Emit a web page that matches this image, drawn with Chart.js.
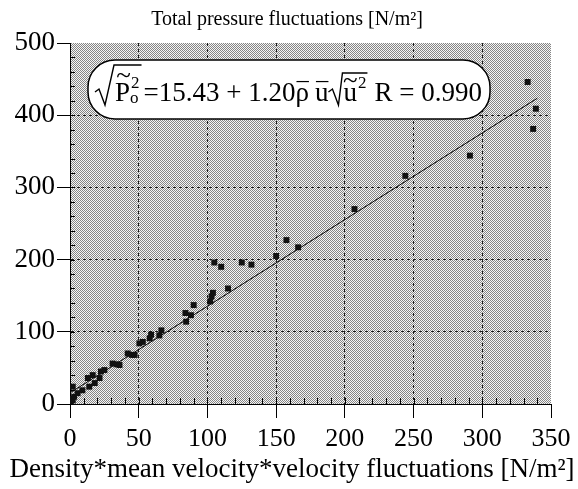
<!DOCTYPE html>
<html>
<head>
<meta charset="utf-8">
<script src="https://cdn.jsdelivr.net/npm/chart.js@4.4.1/dist/chart.umd.min.js"></script>
<style>
html, body { margin: 0; padding: 0; background: #fff; }
#wrap { width: 578px; height: 489px; }
</style>
</head>
<body>
<div id="wrap"><canvas id="chart" width="578" height="489"></canvas></div>
<script>
var xVals = [0.5, 1, 2, 3, 2, 5.5, 9, 14, 18, 13, 16.5, 21.5, 22.5, 25, 31, 34, 36, 42, 45, 47,
             50.5, 53, 58, 59, 65, 66.5, 84.5, 84, 88, 90, 102, 103, 104, 115, 105, 110, 125, 132,
             150, 157.5, 166, 207, 244, 291, 333, 339, 337];
var yVals = [3, 7, 5, 10, 24, 15, 19, 24, 29, 36, 40, 36, 45, 47, 56, 55, 54, 70, 68, 68,
             84, 86, 91, 96, 95, 102, 114, 126, 123, 137, 142, 149, 154, 160, 196, 190, 196, 193,
             205, 227, 217, 270, 316, 344, 446, 409, 381];

// regression from the figure label
var fitIntercept = 15.43;
var fitSlope = 1.20;
var fitR = '0.990';
var fitXRange = [0, 340];

var xTickVals = [0, 50, 100, 150, 200, 250, 300, 350];
var yTickVals = [0, 100, 200, 300, 400, 500];

var titleText = 'Total pressure fluctuations [N/m²]';
var xTitleText = 'Density*mean velocity*velocity fluctuations [N/m²]';

var FONT = '"Liberation Serif", "Times New Roman", serif';

var pts = xVals.map(function(x, i) { return { x: x, y: yVals[i] }; });
var fitPts = fitXRange.map(function(x) { return { x: x, y: fitIntercept + fitSlope * x }; });

// stipple fill for the plot area
var pc = document.createElement('canvas');
pc.width = 4; pc.height = 4;
var pctx = pc.getContext('2d');
pctx.fillStyle = '#f6f6f6';
pctx.fillRect(0, 0, 4, 4);
pctx.fillStyle = '#858585';
for (var i = 0; i < 4; i++) for (var j = 0; j < 4; j++) if ((i + j) % 2 === 0) pctx.fillRect(i, j, 1, 1);

var stipple = {
    id: 'stipple',
    beforeDraw: function(chart) {
        var a = chart.chartArea, c = chart.ctx;
        c.save();
        c.fillStyle = c.createPattern(pc, 'repeat');
        c.fillRect(a.left, a.top, a.right - a.left, a.bottom - a.top);
        c.restore();
    }
};

// small inward ticks on both axes
var minorTicks = {
    id: 'minorTicks',
    beforeDatasetsDraw: function(chart) {
        var c = chart.ctx, xs = chart.scales.x, ys = chart.scales.y, a = chart.chartArea;
        c.save();
        c.strokeStyle = '#000';
        c.lineWidth = 1;
        c.beginPath();
        for (var v = 10; v < 350; v += 10) {
            var px = Math.round(xs.getPixelForValue(v)) + 0.5;
            c.moveTo(px, a.bottom); c.lineTo(px, a.bottom - 6);
        }
        for (var w = 20; w < 500; w += 20) {
            var py = Math.round(ys.getPixelForValue(w)) + 0.5;
            c.moveTo(a.left, py); c.lineTo(a.left + 5, py);
        }
        c.stroke();
        c.restore();
    }
};

// top title and x-axis title (drawn here so they are not squeezed to the plot width)
var titles = {
    id: 'titles',
    afterDraw: function(chart) {
        var c = chart.ctx;
        c.save();
        c.fillStyle = '#000';
        c.textAlign = 'center';
        c.textBaseline = 'alphabetic';
        c.font = '20px ' + FONT;
        c.fillText(titleText, 287, 25);
        c.font = '27px ' + FONT;
        c.fillText(xTitleText, 292, 477);
        c.restore();
    }
};

// equation box
var formula = {
    id: 'formula',
    afterDraw: function(chart) {
        var c = chart.ctx;
        var fs = 27;
        var big = fs + 'px ' + FONT;
        var small = Math.round(fs * 0.62) + 'px ' + FONT;
        var base = 101;
        c.save();
        c.beginPath();
        c.roundRect(88, 60, 402, 59, 27);
        c.fillStyle = '#fff';
        c.fill();
        c.lineWidth = 1.5;
        c.strokeStyle = '#000';
        c.stroke();

        c.fillStyle = '#000';
        c.textAlign = 'left';
        c.textBaseline = 'alphabetic';
        var x = 95;
        function put(t, f, dy) {
            c.font = f;
            c.fillText(t, x, base + (dy || 0));
            var w = c.measureText(t).width;
            x += w;
            return w;
        }
        function line(x1, y1, x2, y2, lw) {
            c.beginPath();
            c.lineWidth = lw || 1.2;
            c.moveTo(x1, y1); c.lineTo(x2, y2);
            c.stroke();
        }
        function radical(x0, top, w) {
            c.beginPath();
            c.lineWidth = 1.4;
            c.moveTo(x0, base - 9);
            c.lineTo(x0 + 4, base - 12);
            c.lineTo(x0 + 10, base + 4);
            c.lineTo(x0 + w, top);
        }

        // sqrt( P~ _o ^2 )
        var r1 = x;
        x += 20;
        var pX = x;
        var pW = put('P', big);
        c.font = big;
        var tw = c.measureText('~').width;
        c.fillText('~', pX + pW / 2 - tw / 2 + 1, base - fs * 0.62);
        var sx = x;
        c.font = small;
        c.fillText('2', sx + 1, base - fs * 0.5);
        c.fillText('o', sx, base + 2);
        x = sx + c.measureText('2').width + 3;
        var top1 = base - 36;
        radical(r1, top1, 19);
        c.lineTo(x, top1);
        c.stroke();

        x += 2;
        put('=15.43 + 1.20', big);
        // rho bar
        var rX = x;
        var rW = put('ρ', big);
        line(rX + 1, base - fs * 0.72, rX + rW, base - fs * 0.72);
        x += 6;
        var uX = x;
        var uW = put('u', big);
        line(uX + 1, base - fs * 0.72, uX + uW, base - fs * 0.72);
        // sqrt( u~ ^2 )
        var r2 = x;
        x += 15;
        var u2X = x;
        var u2W = put('u', big);
        c.font = big;
        c.fillText('~', u2X + u2W / 2 - tw / 2, base - fs * 0.45);
        c.font = small;
        c.fillText('2', x + 1, base - fs * 0.5);
        x += c.measureText('2').width + 2;
        var top2 = base - 28;
        radical(r2, top2, 14);
        c.lineTo(x, top2);
        c.stroke();
        x += 7;
        put('R = ' + fitR, big);
        c.restore();
    }
};

var ctx = document.getElementById('chart').getContext('2d');
new Chart(ctx, {
    type: 'scatter',
    data: {
        datasets: [
            {
                label: 'fit',
                data: fitPts,
                showLine: true,
                borderColor: '#000',
                borderWidth: 1,
                pointRadius: 0,
                order: 2
            },
            {
                label: 'data',
                data: pts,
                pointStyle: 'rect',
                pointRadius: 4.2,
                pointBackgroundColor: '#111',
                pointBorderColor: '#111',
                pointBorderWidth: 0,
                order: 1
            }
        ]
    },
    options: {
        responsive: false,
        animation: false,
        devicePixelRatio: 1,
        layout: { padding: { left: 0, right: 27, top: 43, bottom: 0 } },
        plugins: {
            legend: { display: false },
            tooltip: { enabled: false },
            title: { display: false }
        },
        scales: {
            x: {
                type: 'linear',
                min: 0, max: 350,
                afterBuildTicks: function(s) { s.ticks = xTickVals.map(function(v) { return { value: v }; }); },
                afterFit: function(s) { s.height = 85; },
                border: { display: true, color: '#000', width: 1, dash: [3, 3] },
                grid: {
                    color: function(c) { return (c.tick && (c.tick.value === 0 || c.tick.value === 350)) ? 'rgba(0,0,0,0)' : '#1a1a1a'; },
                    lineWidth: 1,
                    tickColor: '#000',
                    tickBorderDash: [],
                    tickLength: 14,
                    tickWidth: 1
                },
                ticks: { color: '#000', padding: 6, maxRotation: 0, font: { family: FONT, size: 26 } },
                title: { display: false }
            },
            y: {
                type: 'linear',
                min: 0, max: 500,
                afterBuildTicks: function(s) { s.ticks = yTickVals.map(function(v) { return { value: v }; }); },
                afterFit: function(s) { s.width = 70; },
                border: { display: true, color: '#000', width: 1, dash: [3, 3] },
                grid: {
                    color: function(c) { return (c.tick && (c.tick.value === 0 || c.tick.value === 500)) ? 'rgba(0,0,0,0)' : '#1a1a1a'; },
                    lineWidth: 1,
                    tickColor: '#000',
                    tickBorderDash: [],
                    tickLength: 13,
                    tickWidth: 1
                },
                ticks: { color: '#000', padding: 2, font: { family: FONT, size: 27 } }
            }
        }
    },
    plugins: [stipple, minorTicks, titles, formula]
});
</script>
</body>
</html>
